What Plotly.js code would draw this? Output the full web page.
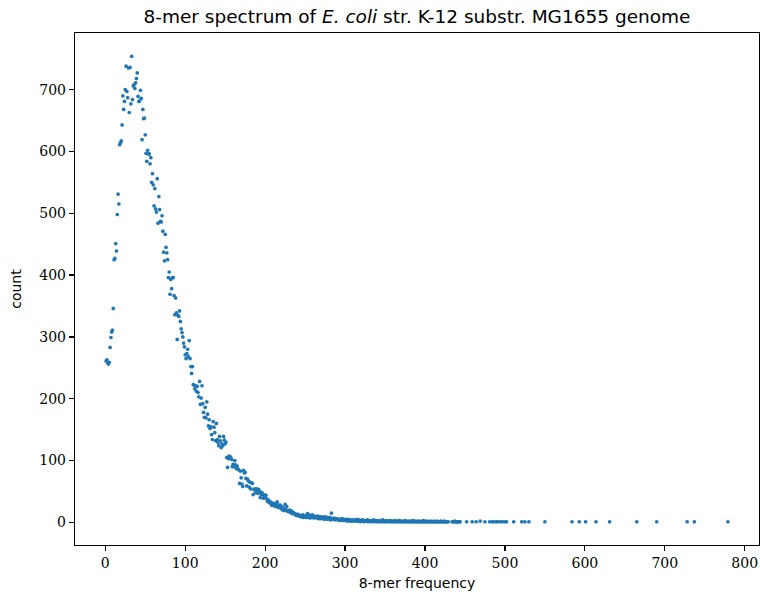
<!DOCTYPE html>
<html>
<head>
<meta charset="utf-8">
<script src="https://cdn.plot.ly/plotly-3.0.1.min.js"></script>
<style>html,body{margin:0;padding:0;background:#fff;}#chart{width:760px;height:601px;}</style>
</head>
<body>
<div id="chart"></div>
<script>
// 8-mer frequency (x) values
const freq = [
1,2,3,4,5,6,7,8,9,10,
11,12,13,14,15,16,17,18,19,20,
21,22,23,24,25,26,27,28,29,30,
31,32,33,34,35,36,37,38,39,40,
41,42,43,44,45,46,47,48,49,50,
51,52,53,54,55,56,57,58,59,60,
61,62,63,64,65,66,67,68,69,70,
71,72,73,74,75,76,77,78,79,80,
81,82,83,84,85,86,87,88,89,90,
91,92,93,94,95,96,97,98,99,100,
101,102,103,104,105,106,107,108,109,110,
111,112,113,114,115,116,117,118,119,120,
121,122,123,124,125,126,127,128,129,130,
131,132,133,134,135,136,137,138,139,140,
141,142,143,144,145,146,147,148,149,150,
151,152,153,154,155,156,157,158,159,160,
161,162,163,164,165,166,167,168,169,170,
171,172,173,174,175,176,177,178,179,180,
181,182,183,184,185,186,187,188,189,190,
191,192,193,194,195,196,197,198,199,200,
201,202,203,204,205,206,207,208,209,210,
211,212,213,214,215,216,217,218,219,220,
221,222,223,224,225,226,227,228,229,230,
231,232,233,234,235,236,237,238,239,240,
241,242,243,244,245,246,247,248,249,250,
251,252,253,254,255,256,257,258,259,260,
261,262,263,264,265,266,267,268,269,270,
271,272,273,274,275,276,277,278,279,280,
281,282,283,284,285,286,287,288,289,290,
291,292,293,294,295,296,297,298,299,300,
301,302,303,304,305,306,307,308,309,310,
311,312,313,314,315,316,317,318,319,320,
321,322,323,324,325,326,327,328,329,330,
331,332,333,334,335,336,337,338,339,340,
341,342,343,344,345,346,347,348,349,350,
351,352,353,354,355,356,357,358,359,360,
361,362,363,364,365,366,367,368,369,370,
371,372,373,374,375,376,377,378,379,380,
381,382,383,384,385,386,387,388,389,390,
391,392,393,394,395,396,397,398,399,400,
401,402,403,404,405,406,407,408,409,410,
411,412,413,414,415,416,417,418,419,420,
421,422,423,424,425,426,427,428,429,
434,435,436,437,438,439,440,441,442,443,444,
452,459,464,469,475,481,484,486,489,491,494,497,500,502,511,
521,525,530,550,584,593,601,614,631,665,690,728,737,779
];

// number of distinct 8-mers with that frequency (y) values
const count = [
261,263,258,256,259,283,299,308,311,346,
425,427,451,439,498,531,515,611,614,617,
643,690,668,681,700,738,697,687,735,663,
736,677,754,684,706,708,702,711,718,727,
689,681,682,699,686,619,668,653,654,627,
597,584,602,596,596,580,590,550,564,546,
512,540,507,502,556,484,527,506,487,486,
496,471,437,423,466,445,436,425,396,405,
369,393,378,396,396,367,336,363,339,296,
335,333,342,325,313,307,300,290,284,271,
265,273,280,268,294,265,252,241,252,223,
222,216,221,212,220,210,203,228,191,201,
221,192,178,170,186,169,195,175,156,166,
152,155,142,134,163,154,145,132,160,134,
129,124,139,132,121,127,124,139,133,127,
130,105,89,103,107,106,105,102,90,94,
90,100,93,87,91,86,85,63,83,72,
62,58,84,80,81,71,59,70,67,57,
65,54,64,63,45,53,54,48,52,54,
47,53,50,40,45,48,45,39,44,42,
44,38,34,36,32,34,31,28,30,31,
27,30,26,30,33,24,28,25,28,22,
25,20,23,19,29,21,26,18,19,17,
20,16,18,14,16,15,14,12,13,11,
13,12,10,11,9,10,12,8,10,9,
11,8,14,9,12,7,10,8,12,9,
7,10,8,9,7,10,6,9,8,6,
9,7,8,5,9,6,8,5,7,6,
8,4,15,6,5,7,4,6,5,6,
4,5,3,5,4,6,3,5,4,3,
5,4,2,5,3,4,2,3,4,2,
3,4,2,3,5,2,3,4,1,3,
2,4,3,1,2,3,2,4,1,2,
3,2,1,3,2,4,1,2,3,1,
2,1,3,2,1,2,4,1,2,1,
3,1,2,2,1,3,1,2,1,2,
1,2,3,1,1,2,1,3,1,2,
1,1,2,1,3,1,2,1,1,2,
1,2,1,1,3,1,1,2,1,1,
2,1,1,2,1,1,1,3,1,2,
1,1,2,1,1,1,2,1,1,1,
2,1,1,1,2,1,1,1,1,2,
1,1,1,2,1,1,1,1,1,
1,1,1,2,1,1,1,1,1,1,1,
1,1,1,2,1,1,1,1,1,1,1,1,1,1,1,
1,1,1,1,1,1,1,1,1,1,1,1,1,1
];

const xTicks = [0,100,200,300,400,500,600,700,800];
const yTicks = [0,100,200,300,400,500,600,700];

function padded(arr) {
  const lo = Math.min(...arr), hi = Math.max(...arr);
  const m = (hi - lo) * 0.05;
  return [lo - m, hi + m];
}

const serif = "'DejaVu Serif', 'Liberation Serif', serif";
const sans = "'DejaVu Sans', 'Liberation Sans', sans-serif";

const trace = {
  x: freq, y: count, type: 'scatter', mode: 'markers',
  marker: {color: '#1f77b4', size: 3.7, line: {width: 0}},
  hoverinfo: 'x+y'
};

const axisCommon = {
  showline: true, linecolor: '#000', linewidth: 1.2, mirror: true,
  ticks: 'outside', ticklen: 5, tickwidth: 1.2, tickcolor: '#000',
  showgrid: false, zeroline: false,
  tickfont: {family: serif, size: 14, color: '#000'}
};

const layout = {
  width: 760, height: 601,
  margin: {l: 75, r: 1, t: 33, b: 56},
  paper_bgcolor: '#fff', plot_bgcolor: '#fff',
  showlegend: false,
  title: {
    text: '8-mer spectrum of <i>E. coli</i> str. K-12 substr. MG1655 genome',
    font: {family: sans, size: 18.5, color: '#000'},
    x: 0.5, xref: 'paper', y: 0.973, yref: 'container', yanchor: 'middle'
  },
  xaxis: Object.assign({}, axisCommon, {
    range: padded(freq), tickvals: xTicks, ticktext: xTicks.map(String),
    title: {text: '8-mer frequency', font: {family: sans, size: 14, color: '#000'}, standoff: 8}
  }),
  yaxis: Object.assign({}, axisCommon, {
    range: padded(count), tickvals: yTicks, ticktext: yTicks.map(String),
    title: {text: 'count', font: {family: sans, size: 14, color: '#000'}, standoff: 14}
  })
};

Plotly.newPlot('chart', [trace], layout, {displayModeBar: false, staticPlot: true});
</script>
</body>
</html>
